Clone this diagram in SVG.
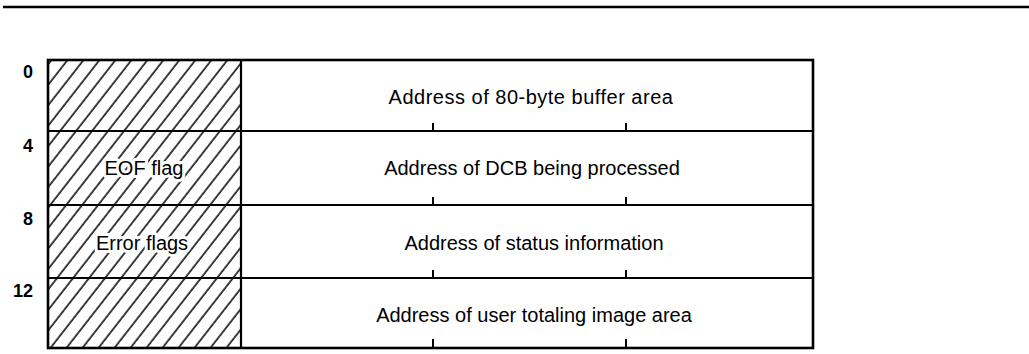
<svg xmlns="http://www.w3.org/2000/svg" width="1029" height="354" viewBox="0 0 1029 354">
  <defs>
    <pattern id="hatch" patternUnits="userSpaceOnUse" width="12.6" height="20" patternTransform="rotate(38)">
      <line x1="2" y1="0" x2="2" y2="20" stroke="#000" stroke-width="1.5"/>
    </pattern>
  </defs>
  <style>
    .lbl { font-family: "Liberation Sans", Arial, sans-serif; font-size: 20px; fill: #000; text-anchor: middle; }
    .off { font-family: "Liberation Sans", Arial, sans-serif; font-size: 18px; font-weight: bold; fill: #000; text-anchor: end; }
    .hl { font-family: "Liberation Sans", Arial, sans-serif; font-size: 20px; fill: #000; text-anchor: middle; stroke: #fff; stroke-width: 6; paint-order: stroke; stroke-linejoin: round; }
    .div { stroke: #000; stroke-width: 2.2; fill: none; }
    .tick { stroke: #000; stroke-width: 2; }
    .frame { stroke: #000; stroke-width: 2.6; fill: none; }
  </style>

  <line x1="3" y1="7" x2="1029" y2="7" stroke="#000" stroke-width="2.6"/>

  <rect x="48" y="60" width="193" height="288" fill="url(#hatch)"/>

  <g id="row0">
    <text class="off" x="33" y="78">0</text>
    <text class="lbl" x="531" y="104" letter-spacing="0.5">Address of 80-byte buffer area</text>
    <line class="tick" x1="433" y1="123" x2="433" y2="131"/>
    <line class="tick" x1="626" y1="123" x2="626" y2="131"/>
  </g>
  <g id="row4">
    <text class="off" x="33" y="152">4</text>
    <text class="hl" x="144" y="175">EOF flag</text>
    <text class="lbl" x="532" y="175">Address of DCB being processed</text>
    <line class="tick" x1="433" y1="197" x2="433" y2="205"/>
    <line class="tick" x1="626" y1="197" x2="626" y2="205"/>
  </g>
  <g id="row8">
    <text class="off" x="33" y="225">8</text>
    <text class="hl" x="142" y="250">Error flags</text>
    <text class="lbl" x="534" y="250">Address of status information</text>
    <line class="tick" x1="433" y1="270" x2="433" y2="278"/>
    <line class="tick" x1="626" y1="270" x2="626" y2="278"/>
  </g>
  <g id="row12">
    <text class="off" x="33" y="297">12</text>
    <text class="lbl" x="534" y="322">Address of user totaling image area</text>
    <line class="tick" x1="433" y1="339" x2="433" y2="348"/>
    <line class="tick" x1="626" y1="339" x2="626" y2="348"/>
  </g>

  <g id="frame">
    <line class="div" x1="48" y1="131" x2="813" y2="131"/>
    <line class="div" x1="48" y1="205" x2="813" y2="205"/>
    <line class="div" x1="48" y1="278" x2="813" y2="278"/>
    <line class="div" x1="241" y1="60" x2="241" y2="348"/>
    <rect class="frame" x="48" y="60" width="765" height="288"/>
  </g>
</svg>
